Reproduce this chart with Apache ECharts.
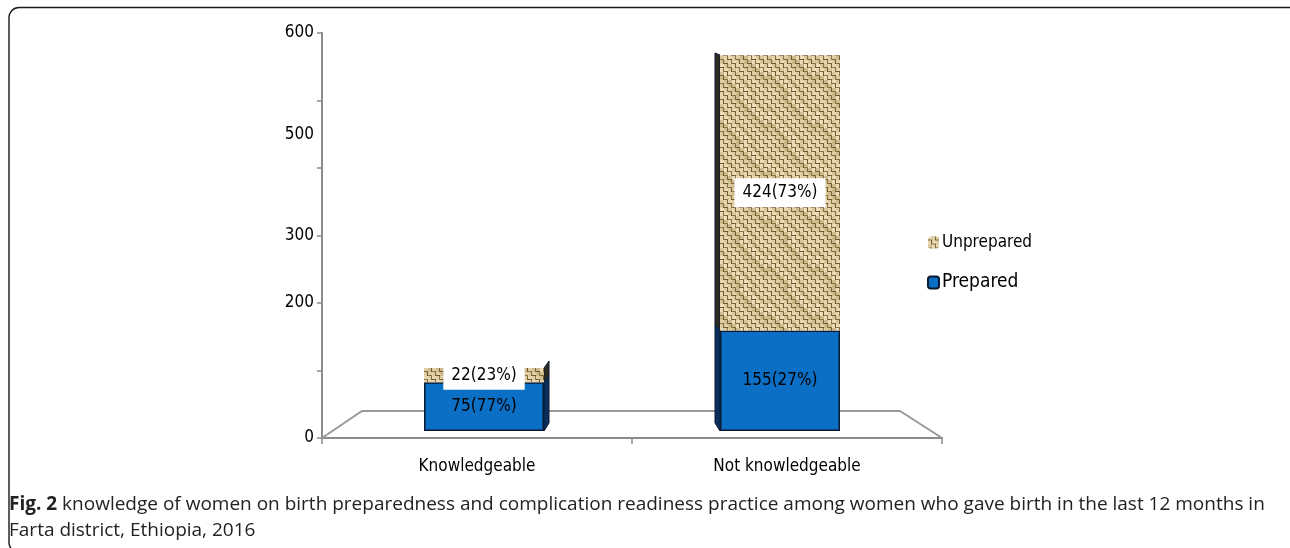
<!DOCTYPE html>
<html>
<head>
<meta charset="utf-8">
<title>Birth preparedness by knowledge</title>
<script src="https://cdn.jsdelivr.net/npm/echarts@6/dist/echarts.min.js"></script>
<style>
  html, body { margin: 0; padding: 0; background: #ffffff; }
  #chart { width: 1290px; height: 548px; }
</style>
</head>
<body>
<div id="chart"></div>
<script>
// ---- data ----
const categories = ['Knowledgeable', 'Not knowledgeable'];
const prepared = [75, 155];
const unprepared = [22, 424];
// y-axis tick labels: value -> text
const yTickValues = [0, 200, 300, 450, 600];
const yTickTexts = ['0', '200', '300', '500', '600'];
const captionBold = 'Fig. 2';
const captionLine1 = ' knowledge of women on birth preparedness and complication readiness practice among women who gave birth in the last 12 months in';
const captionLine2 = 'Farta district, Ethiopia, 2016';

// ---- layout constants ----
const AX = { left: 322, top: 33, width: 620, height: 405 };   // visible axes
const BAR = { left: 336, top: 41.5, width: 592, height: 389.5 }; // bar plotting area
const NARROW = '"DejaVu Sans Condensed", "Liberation Sans Narrow", "Open Sans", sans-serif';
const BODY = '"Open Sans", "DejaVu Sans", sans-serif';

// woven burlap-like texture for the "Unprepared" fill
function burlap() {
  const N = 48, s = 4;
  const c = document.createElement('canvas');
  c.width = N; c.height = N;
  const g = c.getContext('2d');
  g.fillStyle = '#a88f5e';
  g.fillRect(0, 0, N, N);
  // fixed shade cycle so neighbouring threads differ a little
  const lights = ['#e6d7b2', '#d9c69a', '#eadcb9', '#cfba8c', '#dfcda4'];
  const darks = ['#7d6638', '#8e7646', '#6f5a30'];
  const n = N / s;
  for (let i = 0; i < n; i++) {
    for (let j = 0; j < n; j++) {
      const x = i * s, y = j * s;
      const k = (i * 7 + j * 3) % lights.length;
      const d = (i * 5 + j * 2) % darks.length;
      if ((i + j) % 2 === 0) {
        g.fillStyle = lights[k];
        g.fillRect(x, y, s, 3);
        g.fillStyle = darks[d];
        g.fillRect(x, y + 3, s, 1);
      } else {
        g.fillStyle = lights[(k + 2) % lights.length];
        g.fillRect(x, y, 3, s);
        g.fillStyle = darks[d];
        g.fillRect(x + 3, y, 1, s);
      }
    }
  }
  return c;
}
const tan = { image: burlap(), repeat: 'repeat' };
const blue = '#0b6fc6';

const pct = (v, i) => Math.round(v / (prepared[i] + unprepared[i]) * 100);

// side faces of the bars give them a little depth (receding slightly upward)
function sideFace(color) {
  return function (params, api) {
    const i = api.value(0);
    const p0 = api.coord([i, api.value(1)]);
    const p1 = api.coord([i, api.value(2)]);
    const half = 60;
    const dir = i === 0 ? 1 : -1;
    const xEdge = p0[0] + dir * half;
    const dx = dir * 5;
    const yTop = BAR.top, yBot = BAR.top + BAR.height;
    const lift = y => -2 - 6 * (y - yTop) / (yBot - yTop);
    return {
      type: 'polygon',
      shape: { points: [[xEdge, p0[1]], [xEdge, p1[1]], [xEdge + dx, p1[1] + lift(p1[1])], [xEdge + dx, p0[1] + lift(p0[1])]] },
      style: { fill: color, stroke: '#0b1a33', lineWidth: 1 }
    };
  };
}

const chart = echarts.init(document.getElementById('chart'));

const R = AX.left + AX.width, B = AX.top + AX.height;

chart.setOption({
  animation: false,
  textStyle: { fontFamily: NARROW },
  grid: [
    { left: AX.left, top: AX.top, width: AX.width, height: AX.height },
    { left: BAR.left, top: BAR.top, width: BAR.width, height: BAR.height }
  ],
  xAxis: [
    {
      gridIndex: 0, type: 'category', data: categories,
      axisLine: { lineStyle: { color: '#8c8c8c', width: 2 } },
      axisTick: { show: true, length: 6, lineStyle: { color: '#8c8c8c', width: 1.5 } },
      axisLabel: { color: '#000', fontSize: 17, margin: 20, fontFamily: NARROW }
    },
    { gridIndex: 1, type: 'category', data: categories, show: false }
  ],
  yAxis: [
    {
      gridIndex: 0, type: 'value', min: 0, max: 600, interval: 100,
      axisLine: { show: true, lineStyle: { color: '#8c8c8c', width: 2 } },
      axisTick: { show: true, length: 5, lineStyle: { color: '#8c8c8c', width: 1.5 } },
      axisLabel: { show: false },
      splitLine: { show: false }
    },
    {
      gridIndex: 0, type: 'value', min: 0, max: 600, interval: 50, position: 'left',
      axisLine: { show: false }, axisTick: { show: false }, splitLine: { show: false },
      axisLabel: {
        color: '#000', fontSize: 17, margin: 8, fontFamily: NARROW,
        formatter: v => { const k = yTickValues.indexOf(v); return k >= 0 ? yTickTexts[k] : ''; }
      }
    },
    { gridIndex: 1, type: 'value', min: 0, max: 600, show: false }
  ],
  legend: {
    left: 922, top: 229, orient: 'vertical', itemGap: 22,
    itemWidth: 11, itemHeight: 12,
    data: ['Unprepared', 'Prepared'],
    formatter: name => name === 'Prepared' ? '{p|' + name + '}' : '{u|' + name + '}',
    textStyle: {
      color: '#000', fontFamily: NARROW, padding: [0, 0, 0, -2],
      rich: {
        u: { fontSize: 17, fontFamily: NARROW, color: '#000' },
        p: { fontSize: 19, fontFamily: NARROW, color: '#000' }
      }
    }
  },
  series: [
    {
      name: 'Prepared', type: 'bar', stack: 'k', xAxisIndex: 1, yAxisIndex: 2,
      barWidth: 120, z: 3,
      itemStyle: { color: blue, borderColor: '#0a1a30', borderWidth: 1.5 },
      label: {
        show: true, position: 'inside', color: '#000', fontSize: 17, fontFamily: NARROW,
        formatter: p => `${p.value}(${pct(p.value, p.dataIndex)}%)`
      },
      data: prepared
    },
    {
      name: 'Unprepared', type: 'bar', stack: 'k', xAxisIndex: 1, yAxisIndex: 2,
      barWidth: 120, z: 3,
      itemStyle: { color: tan },
      label: {
        show: true, position: 'inside', color: '#000', fontSize: 17, fontFamily: NARROW,
        backgroundColor: '#ffffff', padding: [6, 8, 6, 8],
        formatter: p => `${p.value}(${pct(p.value, p.dataIndex)}%)`
      },
      data: unprepared
    },
    {
      type: 'custom', xAxisIndex: 1, yAxisIndex: 2, z: 2,
      renderItem: sideFace('#0a2e5e'),
      data: prepared.map((v, i) => [i, 0, v]),
      silent: true
    },
    {
      type: 'custom', xAxisIndex: 1, yAxisIndex: 2, z: 2,
      renderItem: sideFace('#2e2a22'),
      data: unprepared.map((v, i) => [i, prepared[i], prepared[i] + v]),
      silent: true
    }
  ],
  graphic: [
    // rounded figure frame
    {
      type: 'rect', z: 0, silent: true,
      shape: { x: 9, y: 7.5, width: 1290, height: 545, r: 10 },
      style: { fill: 'none', stroke: '#1a1a1a', lineWidth: 1.4 }
    },
    // floor of the plot
    {
      type: 'polyline', z: 1, silent: true,
      shape: { points: [[AX.left, B], [AX.left + 40, B - 27], [R - 42, B - 27], [R, B]] },
      style: { stroke: '#9a9a9a', lineWidth: 2, fill: 'none' }
    },
    {
      type: 'text', left: 9, top: 495, silent: true,
      style: {
        text: '{b|' + captionBold + '}' + captionLine1,
        fill: '#222', font: '19px ' + BODY,
        rich: { b: { fontWeight: 'bold', fontSize: 19, fontFamily: BODY, fill: '#222' } }
      }
    },
    {
      type: 'text', left: 9, top: 521, silent: true,
      style: { text: captionLine2, fill: '#222', font: '19px ' + BODY }
    }
  ]
});
</script>
</body>
</html>
